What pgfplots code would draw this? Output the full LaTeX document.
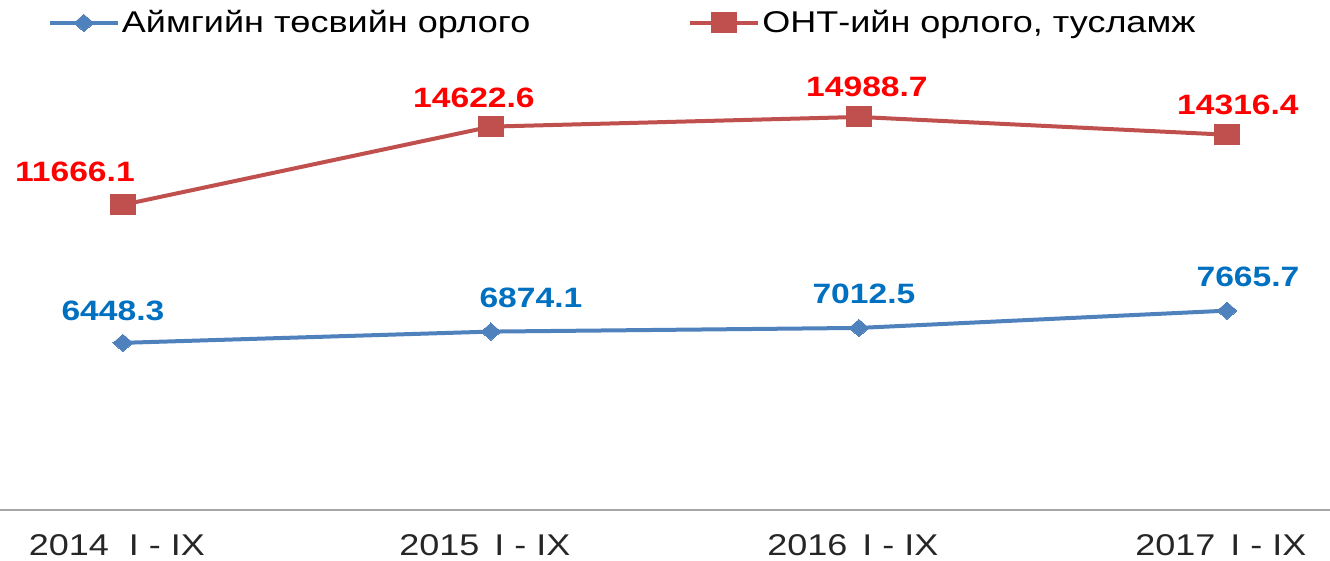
\documentclass[border=0pt]{standalone}
\usepackage{fontspec}
\setmainfont{Liberation Sans}[FakeStretch=1.2]
\usepackage{pgfplots}
\pgfplotsset{compat=1.18}
\usepackage{pgfplotstable}
\definecolor{sblue}{HTML}{4F81BD}
\definecolor{sred}{HTML}{C0504D}
\definecolor{lblue}{HTML}{0070C0}
\definecolor{lred}{HTML}{FF0000}
\pgfplotstableread{
x y dx dy
0 6448.3 -5 16
1 6874.1 20 17
2 7012.5 2.5 17
3 7665.7 10.5 17
}\blueT
\pgfplotstableread{
x y dx dy
0 11666.1 -24 16.5
1 14622.6 -8.5 14.5
2 14988.7 4 15
3 14316.4 5.5 15
}\redT
\begin{document}
\begin{tikzpicture}
\begin{axis}[
 scale only axis, width=665pt, height=255pt,
 xmin=-0.334, xmax=3.28, ymin=130, ymax=19410,
 axis x line=bottom, axis y line=none,
 x axis line style={draw=black!35, line width=1.2pt, -},
 xtick={0,1,2,3},
 xticklabels={2014\ \ I - IX, 2015\ \,I - IX, 2016\ \,I - IX, 2017\ \,I - IX},
 xtick style={draw=none}, ytick=\empty,
 tick label style={font=\fontsize{15}{17}\selectfont, text=black!85},
 xticklabel style={yshift=-6.5pt, xshift=-3pt},
 clip=false,
 legend columns=2,
 legend style={draw=none, fill=none, at={(0.036,0.955)}, anchor=west,
   font=\fontsize{15}{17}\selectfont, inner sep=0pt, outer sep=0pt,
   nodes={inner sep=1pt}, cells={anchor=west},
   /tikz/every even column/.append style={column sep=78pt}},
 legend image code/.code={
   \draw[#1,mark repeat=2,mark phase=2] plot coordinates {(0pt,0pt) (17pt,0pt) (34pt,0pt)};},
 point meta=explicit symbolic,
 visualization depends on={\thisrow{dx} \as \dx},
 visualization depends on={\thisrow{dy} \as \dy},
 nodes near coords,
 every node near coord/.append style={anchor=center, xshift=\dx pt, yshift=\dy pt,
   font=\bfseries\fontsize{14}{16}\selectfont},
]
\addplot[sblue, line width=2pt, mark=diamond*, mark size=4.3pt,
  mark options={fill=sblue, draw=sblue, line width=0pt, xscale=1.55},
  every node near coord/.append style={text=lblue}]
  table[x=x, y=y, meta=y] {\blueT};
\addlegendentry{Аймгийн төсвийн орлого}
\addplot[sred, line width=2pt, mark=square*, mark size=5pt,
  mark options={fill=sred, draw=sred, line width=0pt, xscale=1.25},
  every node near coord/.append style={text=lred}]
  table[x=x, y=y, meta=y] {\redT};
\addlegendentry{ОНТ-ийн орлого, тусламж}
\end{axis}
\pgfresetboundingbox
\path (0pt,-25.5pt) rectangle (665pt,255pt);
\end{tikzpicture}
\end{document}
